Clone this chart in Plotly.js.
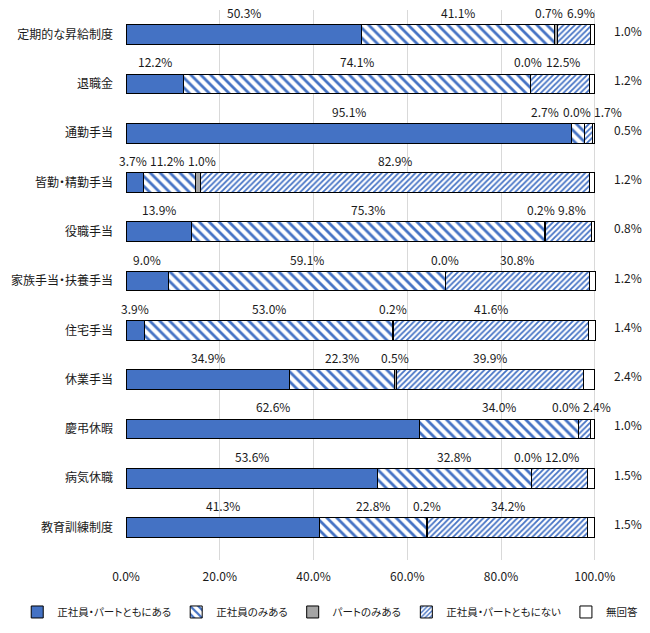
<!DOCTYPE html>
<html>
<head>
<meta charset="utf-8">
<script src="https://cdn.plot.ly/plotly-3.0.1.min.js"></script>
<style>
html,body{margin:0;padding:0;background:#fff;}
#chart{width:650px;height:633px;}
svg text{font-feature-settings:"palt" 1;}
</style>
</head>
<body>
<div id="chart"></div>
<script>
const categories = ['定期的な昇給制度','退職金','通勤手当','皆勤・精勤手当','役職手当','家族手当・扶養手当','住宅手当','休業手当','慶弔休暇','病気休職','教育訓練制度'];
const seriesNames = ['正社員・パートともにある','正社員のみある','パートのみある','正社員・パートともにない','無回答'];
const bothYes   = [50.3, 12.2, 95.1,  3.7, 13.9,  9.0,  3.9, 34.9, 62.6, 53.6, 41.3];
const fullOnly  = [41.1, 74.1,  2.7, 11.2, 75.3, 59.1, 53.0, 22.3, 34.0, 32.8, 22.8];
const partOnly  = [ 0.7,  0.0,  0.0,  1.0,  0.2,  0.0,  0.2,  0.5,  0.0,  0.0,  0.2];
const bothNo    = [ 6.9, 12.5,  1.7, 82.9,  9.8, 30.8, 41.6, 39.9,  2.4, 12.0, 34.2];
const noAnswer  = [ 1.0,  1.2,  0.5,  1.2,  0.8,  1.2,  1.4,  2.4,  1.0,  1.5,  1.5];
const xTickVals = [0, 20, 40, 60, 80, 100];
const xTickText = ['0.0%','20.0%','40.0%','60.0%','80.0%','100.0%'];

const allSeries = [bothYes, fullOnly, partOnly, bothNo, noAnswer];
const BLUE = '#4472C4';
const FONT = '"Noto Sans CJK JP", "Noto Sans", sans-serif';
const TXT = '#1a1a1a';
const styles = [
  {color: BLUE},
  {color: '#ffffff', pattern: {shape: '\\', fgcolor: BLUE, bgcolor: '#ffffff', size: 7, solidity: 0.4, fillmode: 'replace'}},
  {color: '#A5A5A5'},
  {color: '#ffffff', pattern: {shape: '/', fgcolor: BLUE, bgcolor: '#ffffff', size: 4, solidity: 0.45, fillmode: 'replace'}},
  {color: '#ffffff'}
];

const traces = allSeries.map((vals, i) => ({
  type: 'bar',
  orientation: 'h',
  name: seriesNames[i],
  y: categories,
  x: vals,
  width: 0.4,
  marker: Object.assign({line: {color: '#000', width: 1}}, styles[i]),
  hoverinfo: 'x+name'
}));

// label placement: centered above each segment, spread apart when crowded
const pxPer = 4.69; // px per 1%
const annotations = [];
categories.forEach((cat, r) => {
  let cum = 0;
  const labs = [];
  for (let s = 0; s < 4; s++) {
    const v = allSeries[s][r];
    const txt = v.toFixed(1) + '%';
    labs.push({txt, pos: cum + v / 2, w: txt.length * 6.6 / pxPer});
    cum += v;
  }
  for (let it = 0; it < 200; it++) {
    for (let k = 0; k < labs.length - 1; k++) {
      const a = labs[k], b = labs[k + 1];
      const need = (a.w + b.w) / 2 + 5 / pxPer;
      const d = b.pos - a.pos;
      if (d < need) {
        const push = (need - d) / 2;
        a.pos -= push; b.pos += push;
      }
    }
    labs.forEach(l => {
      const maxP = 102.8;
      if (l.pos > maxP) l.pos = maxP;
      if (l.pos < 0.8) l.pos = 0.8;
    });
  }
  labs.forEach(l => annotations.push({
    x: l.pos, y: cat, xref: 'x', yref: 'y', text: l.txt, showarrow: false,
    yshift: 22, font: {family: FONT, size: 12, color: TXT}
  }));
  annotations.push({
    x: 107, y: cat, xref: 'x', yref: 'y', text: noAnswer[r].toFixed(1) + '%', showarrow: false,
    yshift: 4, font: {family: FONT, size: 12, color: TXT}
  });
});

const layout = {
  width: 650, height: 633,
  margin: {l: 126, r: 6, t: 10, b: 73},
  barmode: 'stack',
  paper_bgcolor: '#fff', plot_bgcolor: '#fff',
  font: {family: FONT, size: 12, color: TXT},
  showlegend: true,
  legend: {
    orientation: 'h', xref: 'paper', yref: 'paper',
    x: -0.21, xanchor: 'left', y: -0.0945, yanchor: 'middle',
    traceorder: 'normal', font: {family: FONT, size: 10.5, color: TXT},
    itemwidth: 30, tracegroupgap: 0, borderwidth: 0
  },
  xaxis: {
    range: [0, 110.5], tickvals: xTickVals, ticktext: xTickText,
    showgrid: true, gridcolor: '#d9d9d9', gridwidth: 1,
    zeroline: false, showline: false, ticks: '', ticklabelstandoff: 8,
    fixedrange: true
  },
  yaxis: {
    autorange: 'reversed', showgrid: false, zeroline: false, showline: false,
    ticks: '', ticklabelstandoff: 12, fixedrange: true
  },
  annotations
};

Plotly.newPlot('chart', traces, layout, {displayModeBar: false, staticPlot: true});
</script>
</body>
</html>
